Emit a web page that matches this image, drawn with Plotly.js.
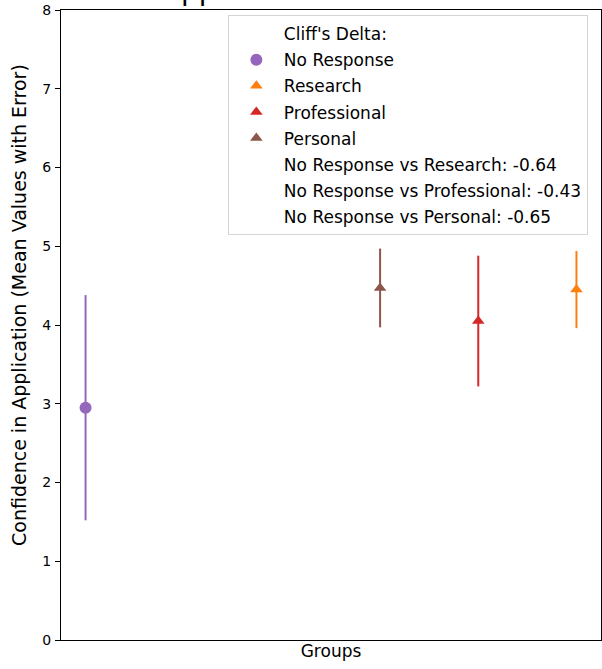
<!DOCTYPE html>
<html>
<head>
<meta charset="utf-8">
<script src="https://cdn.plot.ly/plotly-3.0.1.min.js"></script>
<style>html,body{margin:0;padding:0;background:#fff;}#chart{width:602px;height:669px;}</style>
</head>
<body>
<div id="chart"></div>
<script>
// Data
const groups = ["No Response", "Research", "Professional", "Personal"];
const xPositions = [0, 5, 4, 3];
const meanValues = [2.95, 4.45, 4.05, 4.47];
const errorValues = [1.43, 0.49, 0.83, 0.50];
const colors = ["#9467bd", "#ff7f0e", "#d62728", "#8c564b"];
const symbols = ["circle", "triangle-up", "triangle-up", "triangle-up"];
const legendHeader = "Cliff's Delta:";
const cliffLabels = ["No Response vs Research: -0.64", "No Response vs Professional: -0.43", "No Response vs Personal: -0.65"];
const yTicks = [0, 1, 2, 3, 4, 5, 6, 7, 8];
const titleText = "Confidence in Application";
const yTitleText = "Confidence in Application (Mean Values with Error)";
const xTitleText = "Groups";

const font = "DejaVu Sans, Verdana, sans-serif";
const traces = [];
function textEntry(name, g) {
  return {x: [null], y: [null], type: "scatter", mode: "markers", name: name,
    legendgroup: g, marker: {color: "rgba(0,0,0,0)", size: 1}, hoverinfo: "skip"};
}
traces.push(textEntry(legendHeader, "h"));
groups.forEach((g, i) => {
  traces.push({
    x: [xPositions[i]], y: [meanValues[i]], type: "scatter", mode: "markers",
    name: g, legendgroup: "g" + i,
    marker: {color: colors[i], symbol: symbols[i], size: symbols[i] === "circle" ? 12 : 11, line: {width: 0}},
    error_y: {type: "data", array: [errorValues[i]], visible: true, color: colors[i], thickness: 2, width: 0}
  });
});
cliffLabels.forEach((c, i) => traces.push(textEntry(c, "c" + i)));

const layout = {
  width: 602, height: 669,
  margin: {l: 61, r: 1, t: 10, b: 29},
  paper_bgcolor: "#fff", plot_bgcolor: "#fff",
  font: {family: font, size: 14, color: "#000"},
  title: {text: titleText, font: {family: font, size: 28, color: "#000"},
    xref: "container", yref: "container", x: 0.232, y: 1, xanchor: "center", yanchor: "bottom"},
  showlegend: true,
  legend: {x: 0.309, y: 0.992, xanchor: "left", yanchor: "top",
    bgcolor: "rgba(255,255,255,0.8)", bordercolor: "#d5d5d5", borderwidth: 1,
    itemwidth: 45,
    font: {family: font, size: 17, color: "#000"}, tracegroupgap: 1, traceorder: "grouped"},
  xaxis: {range: [-0.25, 5.25], showticklabels: false, ticks: "", showgrid: false, zeroline: false,
    showline: true, linecolor: "#000", linewidth: 1, mirror: true,
    title: {text: xTitleText, font: {family: font, size: 17}, standoff: 5}},
  yaxis: {range: [0, 8], tickvals: yTicks, ticktext: yTicks.map(String), ticks: "outside", ticklen: 5,
    tickcolor: "#000", showgrid: false, zeroline: false, ticklabelstandoff: 1,
    showline: true, linecolor: "#000", linewidth: 1, mirror: true,
    tickfont: {family: font, size: 14}},
  annotations: [{
    text: yTitleText, textangle: -90, xref: "paper", yref: "paper",
    x: (19 - 61) / 540, y: (640 - 305) / 630, xanchor: "center", yanchor: "middle",
    showarrow: false, font: {family: font, size: 19, color: "#000"}
  }]
};
Plotly.newPlot("chart", traces, layout, {staticPlot: true, displayModeBar: false});
</script>
</body>
</html>
